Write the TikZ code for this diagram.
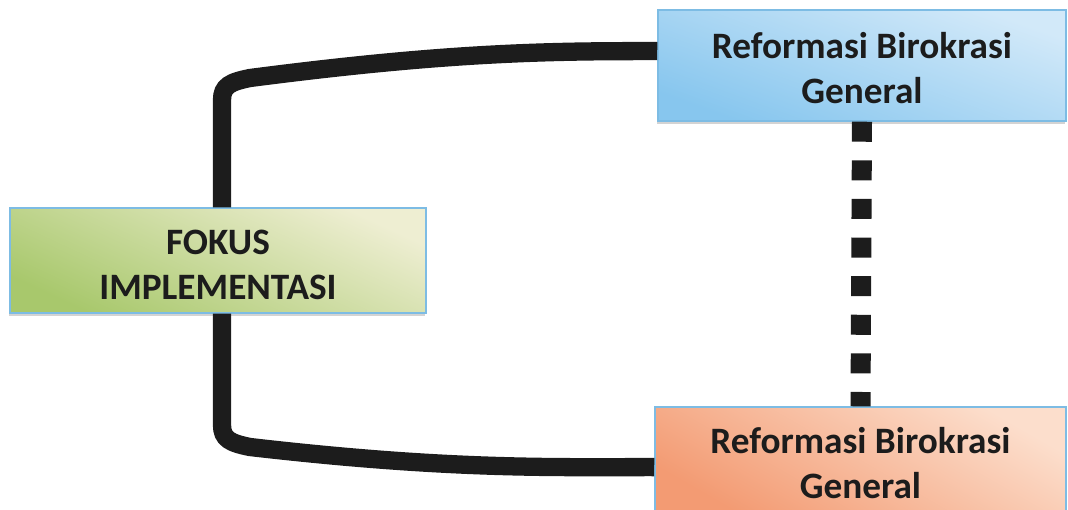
\documentclass[tikz,border=0pt]{standalone}
\usepackage{fontspec}
\setmainfont{Carlito}
\usetikzlibrary{shadows}
\definecolor{boxedge}{RGB}{125,188,228}
\definecolor{greenlight}{RGB}{238,238,210}
\definecolor{greendark}{RGB}{168,200,108}
\definecolor{bluelight}{RGB}{210,233,249}
\definecolor{bluedark}{RGB}{135,198,238}
\definecolor{orangelight}{RGB}{252,222,204}
\definecolor{orangedark}{RGB}{243,155,115}
\definecolor{inktext}{RGB}{28,28,28}

\begin{document}
\begin{tikzpicture}[x=0.025cm, y=-0.025cm,
    box/.style={draw=boxedge, line width=1pt, align=center, inner xsep=0pt, inner ysep=0pt,
        font=\fontsize{26.5}{32}\selectfont\bfseries, text=inktext,
        drop shadow={shadow xshift=-1pt, shadow yshift=-2pt, opacity=0.35}},
    link/.style={line width=13pt, draw=inktext}]
    \useasboundingbox (0,0) rectangle (1068,509);

    % Focus box
    \node[box, minimum width=10.4cm, text height=2.275cm, text depth=0.35cm,
        top color=greenlight, bottom color=greendark, shading angle=-25]
        (fokus) at (218,260.5) {FOKUS\\IMPLEMENTASI};

    % Two reform boxes
    \node[box, minimum width=10.2cm, text height=2.325cm, text depth=0.45cm,
        top color=bluelight, bottom color=bluedark, shading angle=-20]
        (rbtop) at (862,65.5) {Reformasi Birokrasi\\General};
    \node[box, minimum width=10.275cm, text height=2.275cm, text depth=0.35cm,
        top color=orangelight, bottom color=orangedark, shading angle=-30]
        (rbbot) at (860.5,459.5) {Reformasi Birokrasi\\General};

    % Links
    \draw[link] ([xshift=0.1cm]fokus.north) -- (222,100)
        .. controls (222,86) and (230,82) .. (250,78)
        .. controls (450,52) and (550,51) .. ([yshift=0.36cm]rbtop.west);
    \draw[link] ([xshift=0.1cm]fokus.south) -- (222,425)
        .. controls (222,439) and (230,443) .. (250,447)
        .. controls (450,470) and (550,467) .. ([yshift=-0.19cm]rbbot.west);
    \draw[draw=inktext, line width=0.5cm, dash pattern=on 0.5cm off 0.465cm]
        (rbtop.south) -- (rbbot.north);
\end{tikzpicture}
\end{document}
